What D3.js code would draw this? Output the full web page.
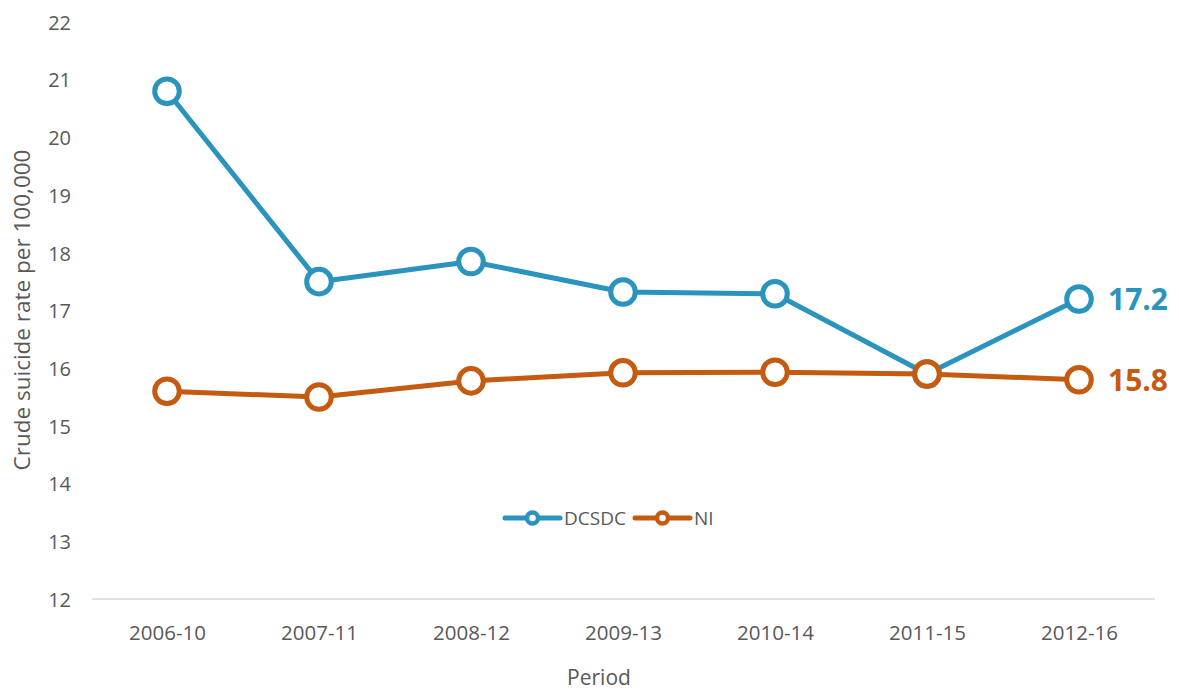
<!DOCTYPE html>
<html><head><meta charset="utf-8">
<script src="https://cdn.jsdelivr.net/npm/d3@7"></script>
<style>body{margin:0;background:#fff;} text{font-family:"Open Sans","Noto Sans",sans-serif;}</style>
</head><body>
<svg id="c" width="1179" height="691"></svg>
<script>
const periods = ["2006-10","2007-11","2008-12","2009-13","2010-14","2011-15","2012-16"];
const dcsdc = [20.8, 17.5, 17.85, 17.32, 17.29, 15.9, 17.2];
const ni = [15.6, 15.5, 15.78, 15.92, 15.93, 15.9, 15.8];
const yTicks = [12,13,14,15,16,17,18,19,20,21,22];
const seriesNames = ["DCSDC","NI"];
const colors = ["#2A93BE","#C55A11"];
const endLabels = ["17.2","15.8"];

const svg = d3.select("#c");
const x = d3.scalePoint().domain(periods).range([167,1079]);
const y = d3.scaleLinear().domain([12,22]).range([599,22]);
const txt = "#595959";

svg.append("line").attr("x1",92).attr("x2",1155).attr("y1",y(12)).attr("y2",y(12))
  .attr("stroke","#d9d9d9").attr("stroke-width",1.5);

const yAxis = svg.append("g").attr("transform","translate(71,0)")
  .call(d3.axisLeft(y).tickValues(yTicks).tickSize(0).tickPadding(0));
yAxis.select(".domain").remove();
yAxis.selectAll("text").attr("fill",txt).style("font-size","20px").attr("dy","0.36em");

const xAxis = svg.append("g").attr("transform","translate(0,633)")
  .call(d3.axisBottom(x).tickSize(0).tickPadding(0));
xAxis.select(".domain").remove();
xAxis.selectAll("text").attr("fill",txt).style("font-size","20.5px").attr("dy","0.36em");

svg.append("text").attr("transform","translate(30,310) rotate(-90)").attr("text-anchor","middle")
  .attr("fill",txt).style("font-size","22.5px").text("Crude suicide rate per 100,000");
svg.append("text").attr("x",599).attr("y",677).attr("dy","0.36em").attr("text-anchor","middle")
  .attr("fill",txt).style("font-size","21px").text("Period");

const data = [dcsdc, ni];
const line = d3.line().x((d,i)=>x(periods[i])).y(d=>y(d));
data.forEach((vals,k)=>{
  svg.append("path").datum(vals).attr("d",line).attr("fill","none")
    .attr("stroke",colors[k]).attr("stroke-width",5).attr("stroke-linejoin","round");
  svg.selectAll(null).data(vals).enter().append("circle")
    .attr("cx",(d,i)=>x(periods[i])).attr("cy",d=>y(d)).attr("r",12.3)
    .attr("fill","#fff").attr("stroke",colors[k]).attr("stroke-width",5);
  svg.append("text").attr("x",x(periods[6])+29).attr("y",y(vals[6])).attr("dy","0.36em")
    .attr("fill",colors[k]).style("font-size","30px").style("font-weight","bold").text(endLabels[k]);
});

// legend
const leg = [{x:505,tx:564},{x:635,tx:694}];
seriesNames.forEach((n,k)=>{
  const g = svg.append("g");
  g.append("line").attr("x1",leg[k].x).attr("x2",leg[k].x+55).attr("y1",518).attr("y2",518)
    .attr("stroke",colors[k]).attr("stroke-width",5).attr("stroke-linecap","round");
  g.append("circle").attr("cx",leg[k].x+27.5).attr("cy",518).attr("r",5.5)
    .attr("fill","#fff").attr("stroke",colors[k]).attr("stroke-width",4.5);
  g.append("text").attr("x",leg[k].tx).attr("y",518).attr("dy","0.36em").attr("fill",txt)
    .style("font-size","19px").text(n);
});
</script>
</body></html>
